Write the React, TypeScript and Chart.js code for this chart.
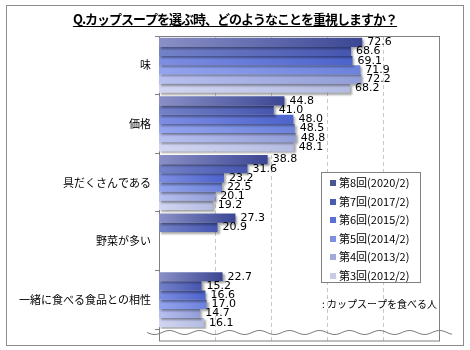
import React, { useEffect, useRef } from "react";
import { Chart, registerables } from "chart.js";

Chart.register(...registerables);

const TITLE = "Q.カップスープを選ぶ時、どのようなことを重視しますか？";
const NOTE = ": カップスープを食べる人";
const categories = ["味", "価格", "具だくさんである", "野菜が多い", "一緒に食べる食品との相性"];
const seriesLabels = [
  "第8回(2020/2)",
  "第7回(2017/2)",
  "第6回(2015/2)",
  "第5回(2014/2)",
  "第4回(2013/2)",
  "第3回(2012/2)",
];
const r8 = [72.6, 44.8, 38.8, 27.3, 22.7];
const r7 = [68.6, 41.0, 31.6, 20.9, 15.2];
const r6 = [69.1, 48.0, 23.2, null, 16.6];
const r5 = [71.9, 48.5, 22.5, null, 17.0];
const r4 = [72.2, 48.8, 20.1, null, 14.7];
const r3 = [68.2, 48.1, 19.2, null, 16.1];
const seriesValues = [r8, r7, r6, r5, r4, r3];
const xTicks = [20, 40, 60, 80];

const darkColors = ["#3b4794", "#4656b0", "#4c63cc", "#6c82dc", "#929ed8", "#b4bce2"];
const lightColors = ["#8a90c6", "#7482c8", "#7e8ee2", "#94a4ee", "#b8c0f0", "#d2d6f2"];
const legendColors = ["#4a5592", "#4a5cb0", "#5a70d6", "#8090e0", "#a2aad8", "#c8cce8"];

const JP = '"Noto Sans CJK JP", "Noto Sans", sans-serif';
const NUM = '"DejaVu Sans", Verdana, sans-serif';

const decorPlugin = {
  id: "decor",
  beforeDraw(chart: any) {
    const { ctx, chartArea } = chart;
    const xs = chart.scales.x;
    const bottom = 341;
    ctx.save();
    ctx.fillStyle = "#ffffff";
    ctx.fillRect(0, 0, chart.width, chart.height);
    ctx.strokeStyle = "#8c8c8c";
    ctx.lineWidth = 1;
    ctx.strokeRect(6.5, 5.5, 457, 340);
    ctx.strokeStyle = "#c8c8c8";
    ctx.setLineDash([4, 3]);
    for (const v of xTicks) {
      const x = Math.round(xs.getPixelForValue(v)) + 0.5;
      ctx.beginPath();
      ctx.moveTo(x, chartArea.top);
      ctx.lineTo(x, bottom);
      ctx.stroke();
    }
    ctx.setLineDash([]);
    ctx.strokeStyle = "#808080";
    const l = Math.round(chartArea.left) + 0.5;
    const t = Math.round(chartArea.top) + 0.5;
    const r = Math.round(chartArea.right) + 0.5;
    ctx.strokeRect(l, t, r - l, bottom - t);
    ctx.restore();
  },
  beforeDatasetsDraw(chart: any) {
    const ctx = chart.ctx;
    ctx.save();
    ctx.shadowColor = "rgba(0,0,0,0.35)";
    ctx.shadowBlur = 2;
    ctx.shadowOffsetX = 2;
    ctx.shadowOffsetY = 2;
  },
  afterDatasetsDraw(chart: any) {
    const ctx = chart.ctx;
    ctx.restore();
    ctx.save();
    ctx.font = `11px ${NUM}`;
    ctx.fillStyle = "#000";
    ctx.textAlign = "left";
    ctx.textBaseline = "middle";
    chart.data.datasets.forEach((ds: any, di: number) => {
      const meta = chart.getDatasetMeta(di);
      meta.data.forEach((el: any, i: number) => {
        const v = ds.data[i];
        if (v == null) return;
        ctx.fillText(v.toFixed(1), el.x + 5, el.y);
      });
    });
    ctx.restore();
  },
  afterDraw(chart: any) {
    const { ctx } = chart;
    ctx.save();
    ctx.strokeStyle = "#808080";
    ctx.lineWidth = 1;
    ctx.beginPath();
    const y0 = 332.5;
    for (let x = 147; x <= 452; x += 1) {
      const y = y0 + 2 * Math.sin(((x - 147) / 30) * Math.PI * 2);
      if (x === 147) ctx.moveTo(x, y);
      else ctx.lineTo(x, y);
    }
    ctx.stroke();

    const lx = 321.5, ly = 172.5, lw = 99, lh = 110;
    ctx.fillStyle = "#ffffff";
    ctx.fillRect(lx, ly, lw, lh);
    ctx.strokeStyle = "#808080";
    ctx.strokeRect(lx, ly, lw, lh);
    ctx.font = `11px ${JP}`;
    ctx.textAlign = "left";
    ctx.textBaseline = "middle";
    seriesLabels.forEach((lab, i) => {
      const cy = 183 + i * 18.5;
      ctx.fillStyle = legendColors[i];
      ctx.fillRect(330, Math.round(cy - 3), 6, 6);
      ctx.fillStyle = "#000";
      ctx.fillText(lab, 339, cy);
    });
    ctx.font = `10px ${JP}`;
    ctx.fillStyle = "#000";
    ctx.fillText(NOTE, 322, 304);

    ctx.font = `bold 13px ${JP}`;
    try { (ctx as any).letterSpacing = "-1px"; } catch (e) {}
    ctx.textAlign = "left";
    ctx.textBaseline = "alphabetic";
    const tw = ctx.measureText(TITLE).width;
    const cx = 235;
    ctx.fillText(TITLE, cx - tw / 2, 24);
    ctx.strokeStyle = "#000";
    ctx.lineWidth = 1;
    ctx.beginPath();
    ctx.moveTo(cx - tw / 2, 26.5);
    ctx.lineTo(cx + tw / 2, 26.5);
    ctx.stroke();
    try { (ctx as any).letterSpacing = "0px"; } catch (e) {}
    ctx.restore();
  },
};

function makeGradient(i: number) {
  return (c: any) => {
    const chart = c.chart;
    const xs = chart.scales && chart.scales.x;
    if (!xs || c.raw == null || typeof c.raw !== "number") return darkColors[i];
    const x0 = xs.getPixelForValue(0);
    const x1 = xs.getPixelForValue(c.raw);
    if (!isFinite(x0) || !isFinite(x1) || x1 <= x0) return darkColors[i];
    const g = chart.ctx.createLinearGradient(x0, 0, x1, 0);
    g.addColorStop(0, lightColors[i]);
    g.addColorStop(1, darkColors[i]);
    return g;
  };
}

export default function App() {
  const ref = useRef<HTMLCanvasElement | null>(null);
  useEffect(() => {
    if (!ref.current) return;
    const chart = new Chart(ref.current, {
      type: "bar",
      data: {
        labels: categories,
        datasets: seriesValues.map((vals, i) => ({
          label: seriesLabels[i],
          data: vals,
          backgroundColor: makeGradient(i),
          borderWidth: 0,
          barPercentage: 1,
          categoryPercentage: 0.94,
        })),
      },
      options: {
        indexAxis: "y",
        animation: false,
        responsive: false,
        devicePixelRatio: 1,
        layout: { padding: { top: 36, right: 31, bottom: 21, left: 0 } },
        plugins: {
          legend: { display: false },
          tooltip: { enabled: false },
          title: { display: false },
        },
        scales: {
          x: { min: 0, max: 100, display: false },
          y: {
            border: { display: false },
            grid: {
              display: true,
              drawOnChartArea: false,
              drawTicks: true,
              tickLength: 4,
              color: "#808080",
              offset: true,
            },
            ticks: {
              padding: 4,
              color: "#000",
              font: { family: JP, size: 11 },
            },
            afterFit: (scale: any) => {
              scale.width = 159;
            },
          },
        },
      },
      plugins: [decorPlugin],
    } as any);
    return () => chart.destroy();
  }, []);
  return (
    <div style={{ position: "absolute", left: 0, top: 0, width: 470, height: 350 }}>
      <canvas ref={ref} width={470} height={350} style={{ width: 470, height: 350 }} />
    </div>
  );
}
